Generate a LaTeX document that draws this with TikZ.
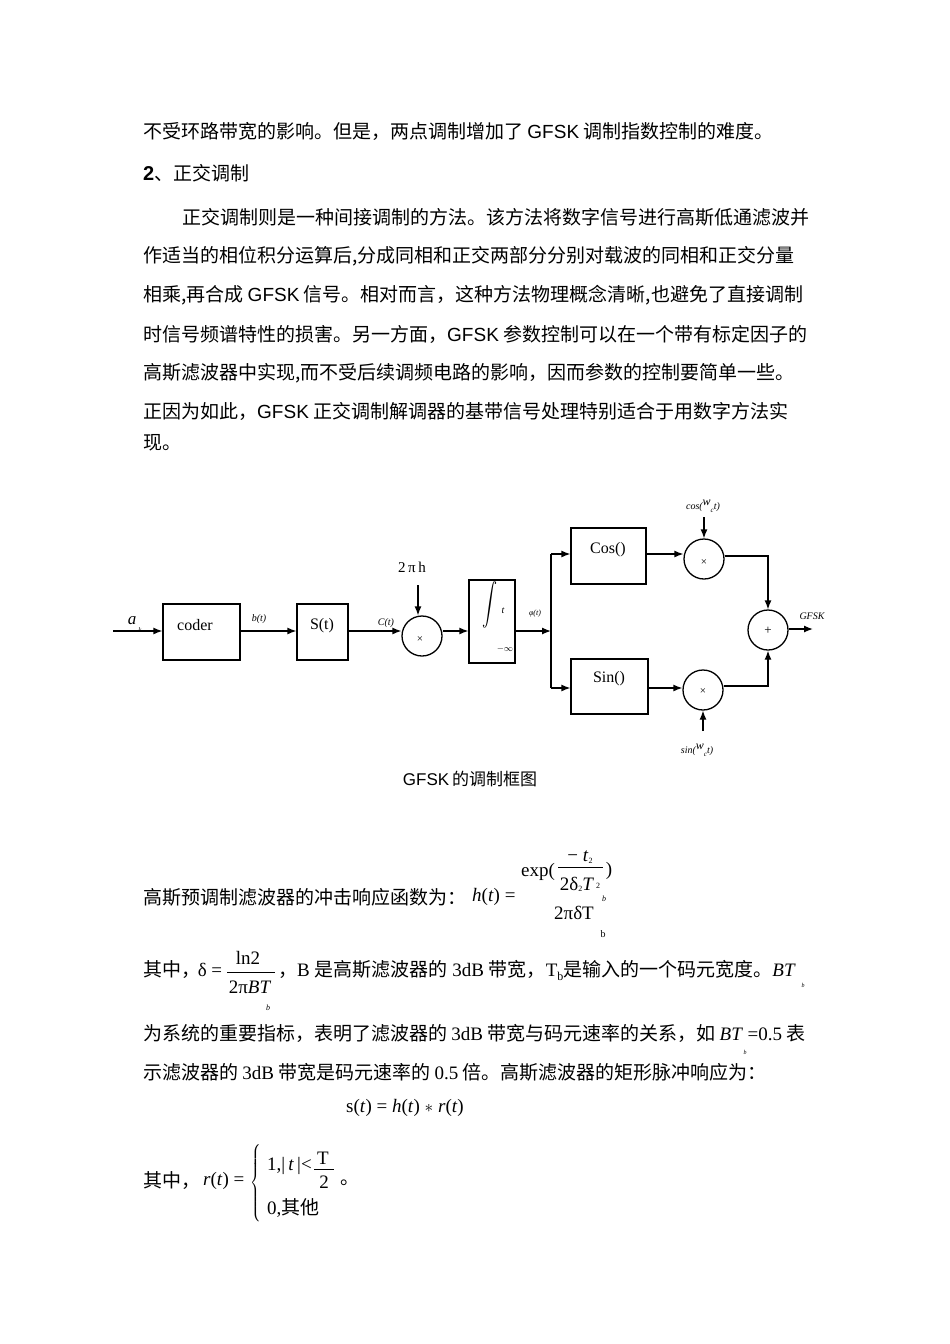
\documentclass[tikz,border=0pt]{standalone}
\usepackage{fontspec}
\setmainfont{Liberation Serif}
\newfontfamily\cjk{Noto Sans CJK SC}
\newfontfamily\arial{Liberation Sans}
\usetikzlibrary{arrows.meta}
\begin{document}
\begin{tikzpicture}[x=1pt,y=-1pt,
  line/.style={inner sep=0pt,anchor=west,font=\cjk\fontsize{19}{22}\selectfont},
  blk/.style={draw,line width=1.3pt,minimum width=#1,inner sep=0pt},
  mul/.style={draw,circle,line width=1.3pt,minimum size=40pt,inner sep=0pt},
  arr/.style={line width=1.3pt,-{Latex[length=9pt,width=7pt]}},
  ln/.style={line width=1.3pt},
  sm/.style={font=\itshape\fontsize{10}{11}\selectfont,inner sep=0pt},
  tx/.style={inner sep=0pt,font=\fontsize{19}{21}\selectfont}]
\useasboundingbox (0,0) rectangle (950,1344);
% top text
\node[line] (l1) at (143,131) {不受环路带宽的影响。但是，两点调制增加了 {\arial GFSK} 调制指数控制的难度。};
\node[line] (l2) at (143,173) {{\arial\bfseries\fontsize{20}{22}\selectfont 2}、正交调制};
\node[line] (l3) at (182,217) {正交调制则是一种间接调制的方法。该方法将数字信号进行高斯低通滤波并};
\node[line] (l4) at (143,256) {作适当的相位积分运算后,分成同相和正交两部分分别对载波的同相和正交分量};
\node[line] (l5) at (143,295) {相乘,再合成 {\arial GFSK} 信号。相对而言，这种方法物理概念清晰,也避免了直接调制};
\node[line] (l6) at (143,334) {时信号频谱特性的损害。另一方面，{\arial GFSK} 参数控制可以在一个带有标定因子的};
\node[line] (l7) at (143,373) {高斯滤波器中实现,而不受后续调频电路的影响，因而参数的控制要简单一些。};
\node[line] (l8) at (143,411) {正因为如此，{\arial GFSK} 正交调制解调器的基带信号处理特别适合于用数字方法实};
\node[line] (l9) at (143,443) {现。};
% diagram
\coordinate (ain) at (113,631);
\node[blk=77pt,minimum height=56pt] (coder) at (201.5,632) {};
\node[font=\fontsize{16}{18}\selectfont] (codert) at (195,625) {coder};
\node[blk=51pt,minimum height=56pt] (S) at (322.5,632) {};
\node[font=\fontsize{16}{18}\selectfont] (St) at (322,626) {S(t)};
\node[mul] (m1) at (422,636) {};
\node[font=\fontsize{11}{12}\selectfont] (m1t) at (420,640) {×};
\node[blk=46pt,minimum height=83pt] (I) at (492,621.5) {};
\node[inner sep=0pt] (Is) at (490,605) {\scalebox{1.5}[2.1]{$\displaystyle\int$}};
\node[sm] (It) at (503,611) {t};
\node[font=\fontsize{9}{10}\selectfont] (Iinf) at (505,649) {$-\infty$};
\node[blk=75pt,minimum height=56pt] (C) at (608.5,556) {};
\node[font=\fontsize{16}{18}\selectfont] (Ct) at (608,550) {Cos()};
\node[blk=77pt,minimum height=55pt] (Sn) at (609.5,686.5) {};
\node[font=\fontsize{16}{18}\selectfont] (Snt) at (609,679) {Sin()};
\node[mul] (m2) at (704,559) {};
\node[font=\fontsize{11}{12}\selectfont] (m2t) at (704,563) {×};
\node[mul] (m3) at (703,690) {};
\node[font=\fontsize{11}{12}\selectfont] (m3t) at (703,692) {×};
\node[mul] (ad) at (768,630) {};
\node[font=\fontsize{13}{14}\selectfont] (adt) at (768,631) {+};
% labels
\node[font=\itshape\fontsize{17}{18}\selectfont,inner sep=0pt] (ak) at (132,621) {a};
\node[sm,font=\itshape\fontsize{7}{8}\selectfont] (akk) at (140,630) {k};
\node[sm] (bt) at (259,619) {b(t)};
\node[sm] (ct) at (386,623) {C(t)};
\node[font=\fontsize{15}{16}\selectfont,inner sep=0pt] (pih) at (412,567) {2\,π\,h};
\node[sm,font=\itshape\fontsize{8}{9}\selectfont] (phi) at (535,614) {φ(t)};
\node[sm] (cosw) at (703,506) {cos(\raisebox{4pt}{\fontsize{12}{12}\selectfont w}\raisebox{-3pt}{\fontsize{7}{7}\selectfont c}t)};
\node[sm] (sinw) at (697,750) {sin(\raisebox{4pt}{\fontsize{12}{12}\selectfont w}\raisebox{-3pt}{\fontsize{7}{7}\selectfont c}t)};
\node[sm] (gfsk) at (812,616) {GFSK};
\coordinate (pihs) at (418,585);
\coordinate (cs) at (704,517);
\coordinate (ss) at (703,731);
\coordinate (out) at (813,629);
\coordinate (sp) at (551,631);
% connectors
\draw[arr] (ain) -- (coder.west |- ain);
\draw[arr] (coder.east |- ain) -- (S.west |- ain);
\draw[arr] (S.east |- ain) -- (m1.west |- ain);
\draw[arr] (pihs) -- (m1.north -| pihs);
\draw[arr] (m1.east |- ain) -- (I.west |- ain);
\draw[arr] (I.east |- ain) -- (sp);
\draw[ln] (551,554) -- (551,688);
\draw[arr] (551,554) -- (C.west |- 0,554);
\draw[arr] (551,688) -- (Sn.west |- 0,688);
\draw[arr] (C.east |- 0,554) -- (m2.west |- 0,554);
\draw[arr] (Sn.east |- 0,688) -- (m3.west |- 0,688);
\draw[arr] (cs) -- (m2.north);
\draw[arr] (ss) -- (m3.south);
\draw[ln] (m2.east |- 0,556) -- (768,556);
\draw[arr] (768,555.4) -- (ad.north);
\draw[ln] (m3.east |- 0,686) -- (768,686);
\draw[arr] (768,686.6) -- (ad.south);
\draw[arr] (ad.east |- out) -- (out);
\node[inner sep=0pt,font=\arial\fontsize{17}{19}\selectfont] (cap) at (470,779) {GFSK\,{\cjk 的调制框图}};
% formulas
\node[line] (f1) at (143,897) {高斯预调制滤波器的冲击响应函数为：};
\node[tx,anchor=west] (ht) at (472,897) {\textit{h}(\textit{t}) =};
\node[tx] (exp) at (538,872) {exp(};
\node[tx] (num) at (580,857) {− \textit{t}\raisebox{-2pt}{\fontsize{8}{8}\selectfont 2}};
\draw[line width=0.8pt] (558,867) -- (603,867);
\node[tx] (den) at (580,884) {2δ\raisebox{-1pt}{\fontsize{8}{8}\selectfont 2}\textit{T}\raisebox{2pt}{\fontsize{8}{8}\selectfont\ 2}};
\node[tx] (rp) at (609,871) {)};
\node[sm,font=\itshape\fontsize{8}{8}\selectfont] (b1) at (604,899) {b};
\node[tx] (den2) at (574,913) {2πδT};
\node[tx,font=\fontsize{10}{10}\selectfont] (b2) at (603,934) {b};
\node[line] (f2a) at (143,970) {其中，};
\node[tx] (dl) at (210,970) {δ =};
\node[tx] (ln2) at (248,958) {ln2};
\draw[line width=0.8pt] (227,972) -- (275,972);
\node[tx] (bt2) at (250,987) {2π\textit{BT}};
\node[sm,font=\itshape\fontsize{8}{8}\selectfont] (b3) at (268,1008) {b};
\node[line] (f2b) at (278,970) {，\fontspec{Liberation Serif}B {\cjk 是高斯滤波器的} 3dB {\cjk 带宽，}T\raisebox{-4pt}{\fontsize{12}{12}\selectfont b}{\cjk 是输入的一个码元宽度。}\textit{BT}};
\node[sm,font=\itshape\fontsize{6}{6}\selectfont] (b4) at (803,985) {b};
\node[line] (f3) at (143,1033) {为系统的重要指标，表明了滤波器的 {\fontspec{Liberation Serif}3dB} 带宽与码元速率的关系，如 {\fontspec{Liberation Serif}\textit{BT} =0.5} 表};
\node[sm,font=\itshape\fontsize{6}{6}\selectfont] (b5) at (745,1052) {b};
\node[line] (f4) at (143,1072) {示滤波器的 {\fontspec{Liberation Serif}3dB} 带宽是码元速率的 {\fontspec{Liberation Serif}0.5} 倍。高斯滤波器的矩形脉冲响应为：};
\node[tx] (conv) at (405,1108) {s(\textit{t}) = \textit{h}(\textit{t}) $*$ \textit{r}(\textit{t})};
\node[line] (f5) at (143,1181) {其中，};
\node[tx,anchor=west] (rt) at (203,1181) {\textit{r}(\textit{t}) =};
\node[inner sep=0pt] (br) at (257,1183) {\scalebox{1.2}[1.6]{$\left\{\rule{0pt}{26pt}\right.$}};
\node[tx,anchor=west] (c1) at (267,1166) {1,|\,\textit{t}\,|<};
\node[tx] (T) at (323,1158) {T};
\draw[line width=0.8pt] (314,1169) -- (334,1169);
\node[tx] (two) at (324,1182) {2};
\node[tx] (dot) at (350,1183) {\cjk 。};
\node[tx,anchor=west] (c2) at (267,1208) {0,{\cjk 其他}};
\end{tikzpicture}
\end{document}
